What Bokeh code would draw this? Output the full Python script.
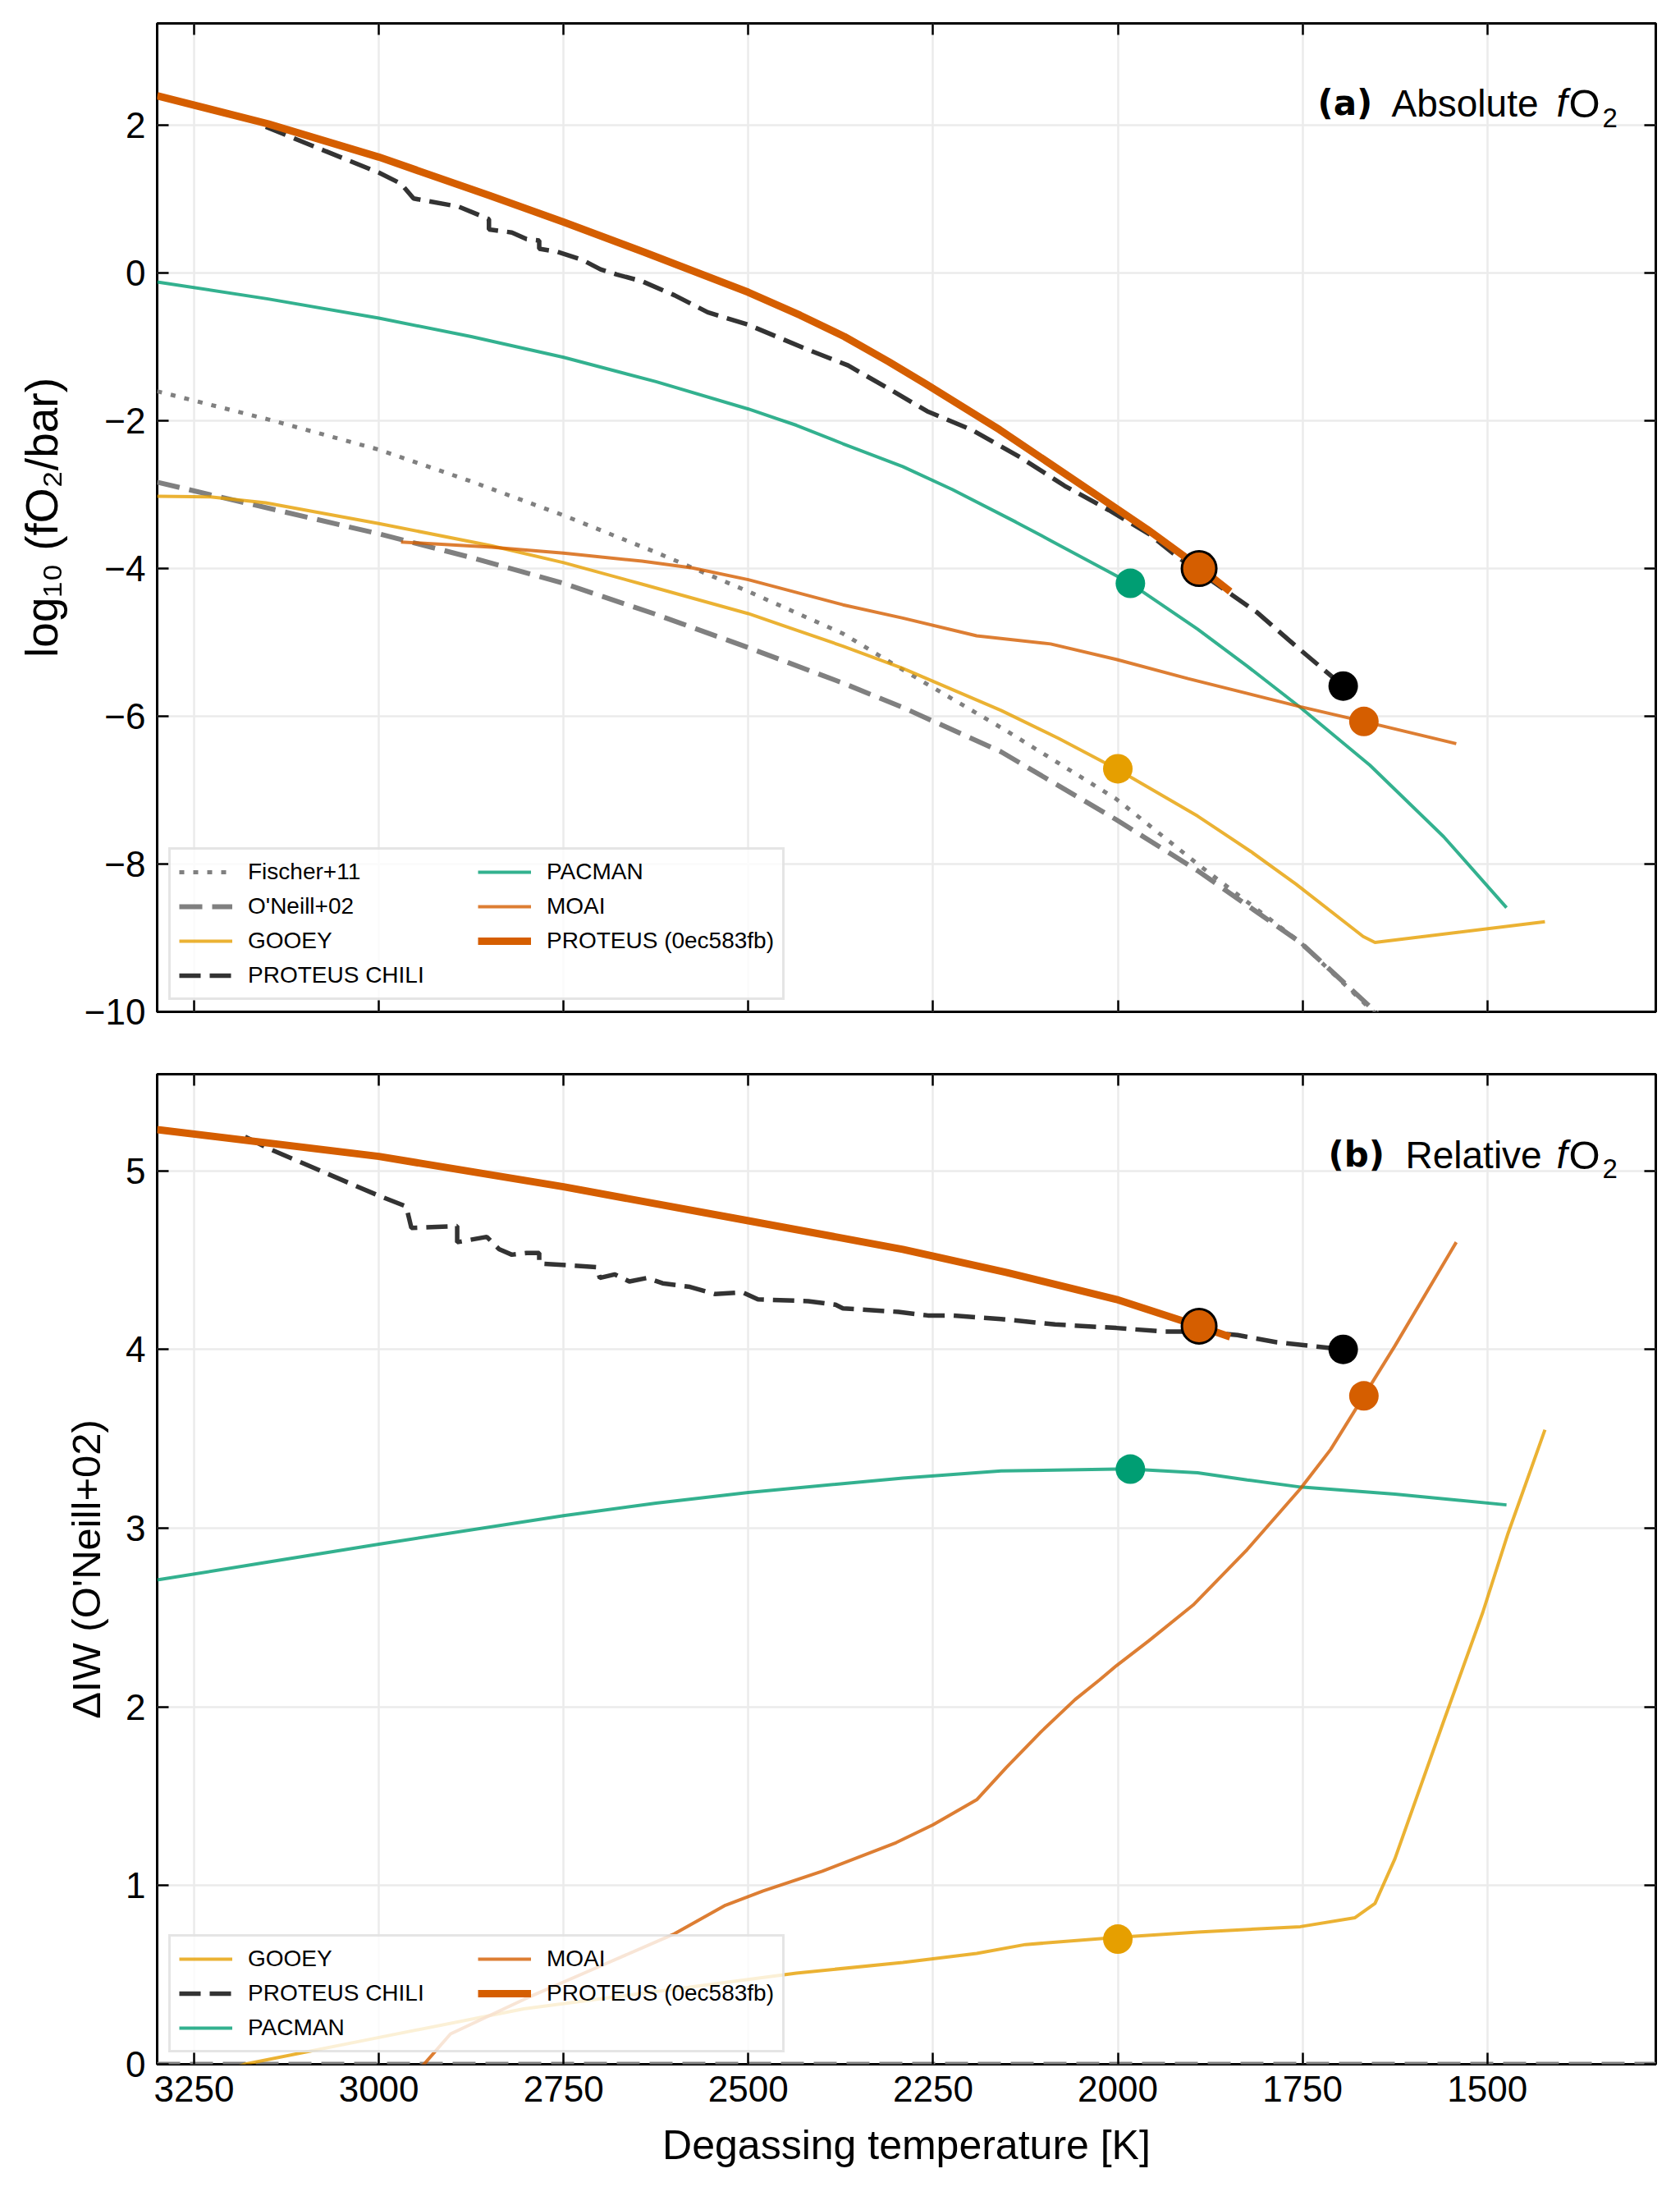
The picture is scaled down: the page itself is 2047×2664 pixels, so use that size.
from bokeh.plotting import figure
from bokeh.models import (Range1d, FixedTicker, LinearAxis, Legend, LegendItem, Label,
                          CustomJSTickFormatter)
from bokeh.layouts import column
from bokeh.embed import file_html
from bokeh.resources import INLINE

# ---------------- data ----------------
X_TICKS = [3250, 3000, 2750, 2500, 2250, 2000, 1750, 1500]
TOP_Y_TICKS = [-10, -8, -6, -4, -2, 0, 2]
BOT_Y_TICKS = [0, 1, 2, 3, 4, 5]

# (a) absolute log10 fO2
fischer_T = [3300, 3150, 3000, 2875, 2750, 2625, 2500, 2372, 2291, 2150, 2002, 1892, 1753, 1652, 1600]
fischer_abs = [-1.60, -1.98, -2.39, -2.82, -3.28, -3.78, -4.31, -4.88, -5.37, -6.20, -7.12, -8.00, -9.06, -10.02, -10.6]

oneill_T = [3300, 3228, 3000, 2875, 2750, 2625, 2500, 2372, 2291, 2158, 2002, 1892, 1753, 1649, 1600]
oneill_abs = [-2.83, -3.00, -3.53, -3.85, -4.20, -4.62, -5.07, -5.55, -5.88, -6.48, -7.40, -8.09, -9.06, -10.02, -10.5]

gooey_T = [3300, 3228, 3153, 3000, 2848, 2750, 2644, 2500, 2372, 2291, 2158, 2080, 2002, 1892, 1820, 1759, 1668, 1652, 1422]
gooey_abs = [-3.02, -3.03, -3.11, -3.39, -3.69, -3.92, -4.21, -4.61, -5.05, -5.35, -5.92, -6.30, -6.71, -7.35, -7.83, -8.27, -8.98, -9.06, -8.78]

pacman_T = [3300, 3150, 3000, 2875, 2750, 2625, 2500, 2435, 2372, 2291, 2224, 2138, 2091, 1983, 1892, 1825, 1753, 1659, 1559, 1474]
pacman_abs = [-0.12, -0.35, -0.61, -0.86, -1.14, -1.47, -1.84, -2.06, -2.31, -2.62, -2.93, -3.37, -3.62, -4.20, -4.82, -5.32, -5.88, -6.66, -7.63, -8.59]

moai_T = [2970, 2848, 2750, 2644, 2576, 2500, 2372, 2291, 2191, 2091, 2002, 1905, 1825, 1753, 1667, 1542]
moai_abs = [-3.64, -3.71, -3.79, -3.90, -3.99, -4.15, -4.49, -4.67, -4.91, -5.02, -5.23, -5.49, -5.69, -5.87, -6.07, -6.37]

chili_T = [3153, 3072, 3000, 2970, 2953, 2892, 2851, 2851, 2820, 2800, 2783, 2783, 2759, 2725, 2700,
           2678, 2644, 2600, 2555, 2500, 2426, 2365, 2304, 2258, 2198, 2131, 2072, 2012, 1958, 1918,
           1845, 1812, 1759, 1695]
chili_abs = [1.98, 1.65, 1.36, 1.21, 1.01, 0.90, 0.73, 0.59, 0.55, 0.46, 0.44, 0.33, 0.29, 0.18, 0.05,
             -0.02, -0.11, -0.30, -0.53, -0.70, -1.01, -1.25, -1.60, -1.87, -2.12, -2.50, -2.88, -3.21, -3.53, -3.85,
             -4.36, -4.59, -5.05, -5.59]

proteus_T = [3300, 3150, 3000, 2850, 2750, 2640, 2500, 2430, 2370, 2310, 2260, 2160, 2040, 1960, 1890, 1848]
proteus_abs = [2.40, 2.02, 1.57, 1.05, 0.69, 0.28, -0.26, -0.57, -0.86, -1.20, -1.50, -2.12, -2.93, -3.47, -3.98, -4.31]

# (b) relative to IW (O'Neill+02)
oneill_rel_T = [3300, 1272]
oneill_rel = [0.0, 0.0]

gooey_rel_T = [3300, 3182, 3000, 2804, 2600, 2435, 2291, 2191, 2125, 2002, 1892, 1753, 1679, 1652, 1625, 1559, 1506, 1472, 1422]
gooey_rel = [-0.19, 0.0, 0.15, 0.31, 0.42, 0.51, 0.57, 0.62, 0.67, 0.71, 0.74, 0.77, 0.82, 0.90, 1.15, 1.92, 2.53, 2.97, 3.55]

pacman_rel_T = [3300, 3150, 3000, 2750, 2625, 2500, 2291, 2158, 2002, 1983, 1892, 1825, 1753, 1625, 1474]
pacman_rel = [2.71, 2.81, 2.91, 3.07, 3.14, 3.20, 3.28, 3.32, 3.33, 3.33, 3.31, 3.27, 3.23, 3.19, 3.13]

moai_rel_T = [2970, 2939, 2903, 2800, 2700, 2600, 2531, 2480, 2400, 2300, 2250, 2191, 2151, 2104, 2058,
              2025, 2002, 1958, 1898, 1825, 1753, 1712, 1667, 1625, 1542]
moai_rel = [-0.12, 0.0, 0.17, 0.37, 0.55, 0.73, 0.89, 0.97, 1.08, 1.24, 1.34, 1.48, 1.66, 1.86, 2.04,
            2.15, 2.23, 2.37, 2.57, 2.88, 3.22, 3.44, 3.74, 4.02, 4.60]

chili_rel_T = [3181, 3147, 3000, 2963, 2956, 2894, 2894, 2854, 2837, 2820, 2800, 2783, 2783, 2739, 2705,
               2701, 2681, 2661, 2637, 2616, 2579, 2545, 2508, 2487, 2419, 2382, 2372, 2297, 2257, 2224,
               2158, 2085, 2002, 1938, 1890, 1838, 1785, 1739, 1695]
chili_rel = [5.19, 5.12, 4.86, 4.80, 4.68, 4.69, 4.60, 4.63, 4.56, 4.53, 4.54, 4.54, 4.48, 4.47, 4.46,
             4.40, 4.42, 4.38, 4.40, 4.37, 4.35, 4.31, 4.32, 4.28, 4.27, 4.25, 4.23, 4.21, 4.19, 4.19,
             4.17, 4.14, 4.12, 4.10, 4.10, 4.08, 4.04, 4.02, 4.00]

proteus_rel_T = [3300, 3000, 2750, 2500, 2291, 2150, 2002, 1890, 1848]
proteus_rel = [5.23, 5.08, 4.91, 4.72, 4.56, 4.43, 4.28, 4.13, 4.07]

# end-point markers
mark_names = ["GOOEY", "PACMAN", "MOAI", "PROTEUS CHILI"]
mark_T = [2000, 1983, 1667, 1695]
mark_abs = [-6.71, -4.20, -6.07, -5.59]
mark_rel = [0.70, 3.33, 3.74, 4.00]
mark_colors = ["#E69F00", "#009E73", "#D55E00", "#000000"]
proteus_mark_T = [1890]
proteus_mark_abs = [-4.00]
proteus_mark_rel = [4.13]

# ---------------- styling ----------------
FONT = "Liberation Sans"
C_GRAY = "#808080"
C_GOOEY = "#E69F00"
C_PACMAN = "#009E73"
C_MOAI = "#D55E00"
C_PROTEUS = "#D55E00"
C_CHILI = "#333333"

X_RANGE = (3300, 1272)


def make_fig(height, border_top, border_bottom, yr, yticks, show_x_labels):
    p = figure(width=2047, height=height, x_range=Range1d(*X_RANGE), y_range=Range1d(*yr),
               output_backend="svg", toolbar_location=None,
               min_border_left=191, min_border_right=30,
               min_border_top=border_top, min_border_bottom=border_bottom)
    p.background_fill_color = "white"
    p.border_fill_color = "white"
    p.outline_line_color = "black"
    p.outline_line_width = 3
    p.outline_line_alpha = 1.0
    p.add_layout(LinearAxis(), "above")
    p.add_layout(LinearAxis(), "right")
    for ax in p.xaxis:
        ax.ticker = FixedTicker(ticks=X_TICKS)
    for ax in p.yaxis:
        ax.ticker = FixedTicker(ticks=yticks)
    for ax in p.axis:
        ax.major_tick_in = 14
        ax.major_tick_out = 0
        ax.major_tick_line_width = 2.5
        ax.major_tick_line_color = "black"
        ax.minor_tick_line_color = None
        ax.axis_line_color = None
        ax.major_label_text_font = FONT
        ax.major_label_text_font_size = "44px"
        ax.major_label_text_color = "black"
        ax.major_label_standoff = 14
        ax.axis_label_text_font = FONT
        ax.axis_label_text_font_size = "49px"
        ax.axis_label_text_font_style = "normal"
        ax.axis_label_text_color = "black"
        ax.axis_label_standoff = 18
    blank = [p.above[0], p.right[0]]
    if not show_x_labels:
        blank.append(p.below[0])
    for ax in blank:
        ax.formatter = CustomJSTickFormatter(code="return ''")
        ax.major_label_standoff = 0
    p.left[0].major_label_overrides = {t: (("\u2212" + str(abs(t))) if t < 0 else str(t)) for t in yticks}
    p.xgrid.ticker = FixedTicker(ticks=X_TICKS)
    p.ygrid.ticker = FixedTicker(ticks=yticks)
    for g in (p.xgrid, p.ygrid):
        g.grid_line_color = "#ebebeb"
        g.grid_line_width = 2.5
    return p


def add_title(p, bold, word, xs, base_y, sub_y):
    items = [
        (bold, xs[0], base_y, "DejaVu Sans", "42px", "bold"),
        (word, xs[1], base_y, FONT, "46px", "normal"),
        ("f", xs[2], base_y, FONT, "48px", "italic"),
        ("O", xs[3], base_y, FONT, "49px", "normal"),
        ("2", xs[4], sub_y, FONT, "33px", "normal"),
    ]
    for text, x, y, font, size, style in items:
        p.add_layout(Label(x=x, y=y, x_units="screen", y_units="screen", text=text,
                           text_font=font, text_font_size=size, text_font_style=style,
                           text_color="black", text_align="left", text_baseline="alphabetic"))


def style_legend(leg):
    leg.location = "bottom_left"
    leg.ncols = 2
    leg.label_text_font = FONT
    leg.label_text_font_size = "28px"
    leg.label_text_color = "black"
    leg.glyph_width = 65
    leg.glyph_height = 34
    leg.label_height = 34
    leg.label_width = 272
    leg.label_standoff = 19
    leg.spacing = 8
    leg.padding = 10
    leg.margin = 14
    leg.border_line_color = "#cccccc"
    leg.border_line_width = 3
    leg.background_fill_color = "white"
    leg.background_fill_alpha = 0.8


# ---------------- panel (a) ----------------
pa = make_fig(1270, 28, 38, (-10, 3.38), TOP_Y_TICKS, False)
pa.left[0].axis_label = "log\u2081\u2080 (fO\u2082/bar)"
pa.left[0].axis_label_text_font_size = "55px"

r_f = pa.line(fischer_T, fischer_abs, line_color=C_GRAY, line_width=5, line_dash="6 11")
r_o = pa.line(oneill_T, oneill_abs, line_color=C_GRAY, line_width=6, line_dash="28 12")
r_g = pa.line(gooey_T, gooey_abs, line_color=C_GOOEY, line_alpha=0.8, line_width=4)
r_pm = pa.line(pacman_T, pacman_abs, line_color=C_PACMAN, line_alpha=0.8, line_width=4)
r_m = pa.line(moai_T, moai_abs, line_color=C_MOAI, line_alpha=0.8, line_width=4)
r_c = pa.line(chili_T, chili_abs, line_color=C_CHILI, line_width=5.5, line_dash="26 11")
r_p = pa.line(proteus_T, proteus_abs, line_color=C_PROTEUS, line_width=9)
pa.scatter(mark_T, mark_abs, size=36, fill_color=mark_colors, line_color=None)
pa.scatter(proteus_mark_T, proteus_mark_abs, size=42, fill_color=C_PROTEUS, line_color="black", line_width=3)

leg_a = Legend(items=[
    LegendItem(label="Fischer+11", renderers=[r_f]),
    LegendItem(label="O'Neill+02", renderers=[r_o]),
    LegendItem(label="GOOEY", renderers=[r_g]),
    LegendItem(label="PROTEUS CHILI", renderers=[r_c]),
    LegendItem(label="PACMAN", renderers=[r_pm]),
    LegendItem(label="MOAI", renderers=[r_m]),
    LegendItem(label="PROTEUS (0ec583fb)", renderers=[r_p]),
])
style_legend(leg_a)
pa.add_layout(leg_a)
add_title(pa, "(a)", "Absolute", [1414, 1504, 1705, 1720, 1761], 1107, 1089)

# ---------------- panel (b) ----------------
pb = make_fig(1394, 38, 150, (0, 5.54), BOT_Y_TICKS, True)
pb.left[0].axis_label = "\u0394IW (O'Neill+02)"
pb.below[0].axis_label = "Degassing temperature [K]"
pb.below[0].axis_label_text_font_size = "50px"
pb.below[0].axis_label_standoff = 22

pb.line(oneill_rel_T, oneill_rel, line_color=C_GRAY, line_width=6, line_dash="28 12")
s_g = pb.line(gooey_rel_T, gooey_rel, line_color=C_GOOEY, line_alpha=0.8, line_width=4)
s_pm = pb.line(pacman_rel_T, pacman_rel, line_color=C_PACMAN, line_alpha=0.8, line_width=4)
s_m = pb.line(moai_rel_T, moai_rel, line_color=C_MOAI, line_alpha=0.8, line_width=4)
s_c = pb.line(chili_rel_T, chili_rel, line_color=C_CHILI, line_width=5.5, line_dash="26 11")
s_p = pb.line(proteus_rel_T, proteus_rel, line_color=C_PROTEUS, line_width=9)
pb.scatter(mark_T, mark_rel, size=36, fill_color=mark_colors, line_color=None)
pb.scatter(proteus_mark_T, proteus_mark_rel, size=42, fill_color=C_PROTEUS, line_color="black", line_width=3)

leg_b = Legend(items=[
    LegendItem(label="GOOEY", renderers=[s_g]),
    LegendItem(label="PROTEUS CHILI", renderers=[s_c]),
    LegendItem(label="PACMAN", renderers=[s_pm]),
    LegendItem(label="MOAI", renderers=[s_m]),
    LegendItem(label="PROTEUS (0ec583fb)", renderers=[s_p]),
])
style_legend(leg_b)
pb.add_layout(leg_b)
add_title(pb, "(b)", "Relative", [1427, 1521, 1705, 1720, 1761], 1108, 1091)

layout = column(pa, pb, spacing=0)
open("out.html", "w").write(file_html(layout, INLINE))
